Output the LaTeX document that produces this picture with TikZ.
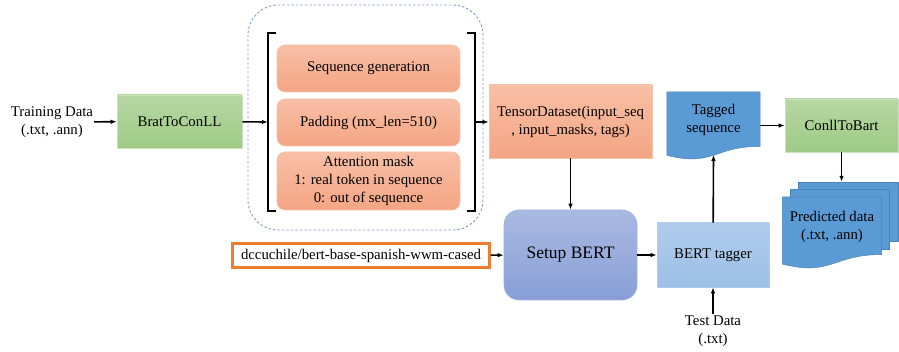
\documentclass[tikz,border=0pt]{standalone}
\usepackage{fontspec}
\setmainfont{Liberation Serif}
\usetikzlibrary{positioning,arrows.meta,calc}

\definecolor{greenTop}{HTML}{B6D7A3}
\definecolor{greenBot}{HTML}{9FCB85}
\definecolor{greenLine}{HTML}{C9E2BA}
\definecolor{orangeTop}{HTML}{F8BFA6}
\definecolor{orangeBot}{HTML}{F4A583}
\definecolor{orangeLine}{HTML}{F2C3AC}
\definecolor{setupTop}{HTML}{A9B9E1}
\definecolor{setupBot}{HTML}{889FD7}
\definecolor{setupLine}{HTML}{9DB0DE}
\definecolor{taggerTop}{HTML}{B0CCEC}
\definecolor{taggerBot}{HTML}{9CBFE6}
\definecolor{docBlue}{HTML}{5B9BD5}
\definecolor{docLine}{HTML}{4A84BA}
\definecolor{modelLine}{HTML}{ED7D31}
\definecolor{groupLine}{HTML}{7F9DC4}

\tikzset{
  txt/.style={font=\fontsize{14.8}{18}\selectfont, align=center, inner sep=1pt},
  greenbox/.style={txt, top color=greenTop, bottom color=greenBot, draw=greenLine, line width=0.6pt},
  orangebox/.style={txt, top color=orangeTop, bottom color=orangeBot, draw=orangeLine, line width=0.6pt},
  docbox/.style={txt, inner sep=0pt},
  docfill/.style={fill=docBlue, draw=docLine, line width=0.5pt},
  flow/.style={-{Latex[length=6pt,width=4.5pt]}, line width=1.6pt},
}

% wavy document outline round a node (height #2, may reach below its south side)
\newcommand{\docoutline}[2]{%
  ($(#1.north west)$) -- ($(#1.north east)$) --
  ($(#1.north east)+(0,{0.802*(#2)})$)
  .. controls ($(#1.north)+(0,{0.802*(#2)})$) and ($(#1.north)+(0,{1.107*(#2)})$) ..
  ($(#1.north west)+(0,{0.934*(#2)})$) -- cycle}

\begin{document}
\begin{tikzpicture}[x=1pt,y=-1pt]
    \useasboundingbox (0,0) rectangle (899,352);

    % Training input
    \node[txt] (train) at (52,122) {Training Data\\(.txt, .ann)};
    \node[greenbox, minimum width=125, minimum height=53] (brat) at (179.5,121.5) {BratToConLL};

    % Preprocessing group
    \draw[groupLine, dash pattern=on 2.5pt off 2pt, line width=0.9pt, rounded corners=30] (248,5) rectangle (483,230);
    \node[orangebox, rounded corners=8, minimum width=183, minimum height=47] (seqgen) at (368.5,68.5) {Sequence generation};
    \node[orangebox, rounded corners=8, minimum width=183, minimum height=47] (pad) at (368.5,122.5) {Padding (mx\_len=510)};
    \node[orangebox, rounded corners=8, minimum width=183, minimum height=58] (attn) at (368.5,181) {Attention mask\\1: real token in sequence\\0: out of sequence};
    \draw[line width=1.6pt] (276,33) -- (268,33) -- (268,211) -- (276,211);
    \draw[line width=1.6pt] (467,33) -- (475,33) -- (475,211) -- (467,211);
    \coordinate (lbr) at (268,122);
    \coordinate (rbr) at (475,122);

    % Dataset and model
    \node[orangebox, minimum width=163, minimum height=73] (tensor) at (570.5,121.5) {TensorDataset(input\_seq\\, input\_masks, tags)};
    \node[txt, top color=setupTop, bottom color=setupBot, draw=setupLine,
          line width=0.6pt, rounded corners=15, minimum width=133, minimum height=90,
          font=\fontsize{17.5}{20}\selectfont] (setup) at (570.5,255) {Setup BERT};
    \node[txt, draw=modelLine, line width=2.2pt, fill=white, minimum width=257, minimum height=24] (model) at (361,255.5) {dccuchile/bert-base-spanish-wwm-cased};
    \node[txt, top color=taggerTop, bottom color=taggerBot, draw=taggerTop, line width=0.6pt,
          minimum width=112, minimum height=64] (tagger) at (713,255) {BERT tagger};
    \node[txt] (test) at (713,331) {Test Data\\(.txt)};

    % Tagged output
    \node[docbox, minimum width=93, minimum height=56] (taggedbox) at (713.5,120) {};
    \fill[docfill] \docoutline{taggedbox}{68};
    \node[docbox] (tagged) at (taggedbox) {Tagged\\sequence};
    \coordinate (taggedbot) at ($(taggedbox.north)+(0,63)$);
    \node[greenbox, minimum width=113, minimum height=53] (conll) at (841.5,125.5) {ConllToBart};

    % Predicted data stack
    \node[docbox, minimum width=100, minimum height=59] (predback) at (848,211.5) {};
    \fill[docfill] (predback.north west) rectangle (predback.south east);
    \node[docbox, minimum width=99, minimum height=60] (predmid) at (839.5,219) {};
    \fill[docfill] (predmid.north west) rectangle (predmid.south east);
    \node[docbox, minimum width=99, minimum height=60] (predbox) at (832,227) {};
    \fill[docfill] \docoutline{predbox}{72};
    \node[docbox] (pred) at (predbox) {Predicted data\\(.txt, .ann)};

    % Connectors
    \draw[flow] (train) -- (brat);
    \draw[flow] (brat) -- (lbr);
    \draw[flow] (rbr) -- (tensor);
    \draw[flow] (tensor) -- (setup);
    \draw[flow] (model) -- (setup);
    \draw[flow] (setup) -- (tagger);
    \draw[flow] (test) -- (tagger);
    \draw[flow] (tagger) -- (taggedbot);
    \draw[flow] (taggedbox.east |- conll.west) -- (conll.west);
    \draw[flow] (conll.south) -- (conll.south |- predback.north);
\end{tikzpicture}
\end{document}
